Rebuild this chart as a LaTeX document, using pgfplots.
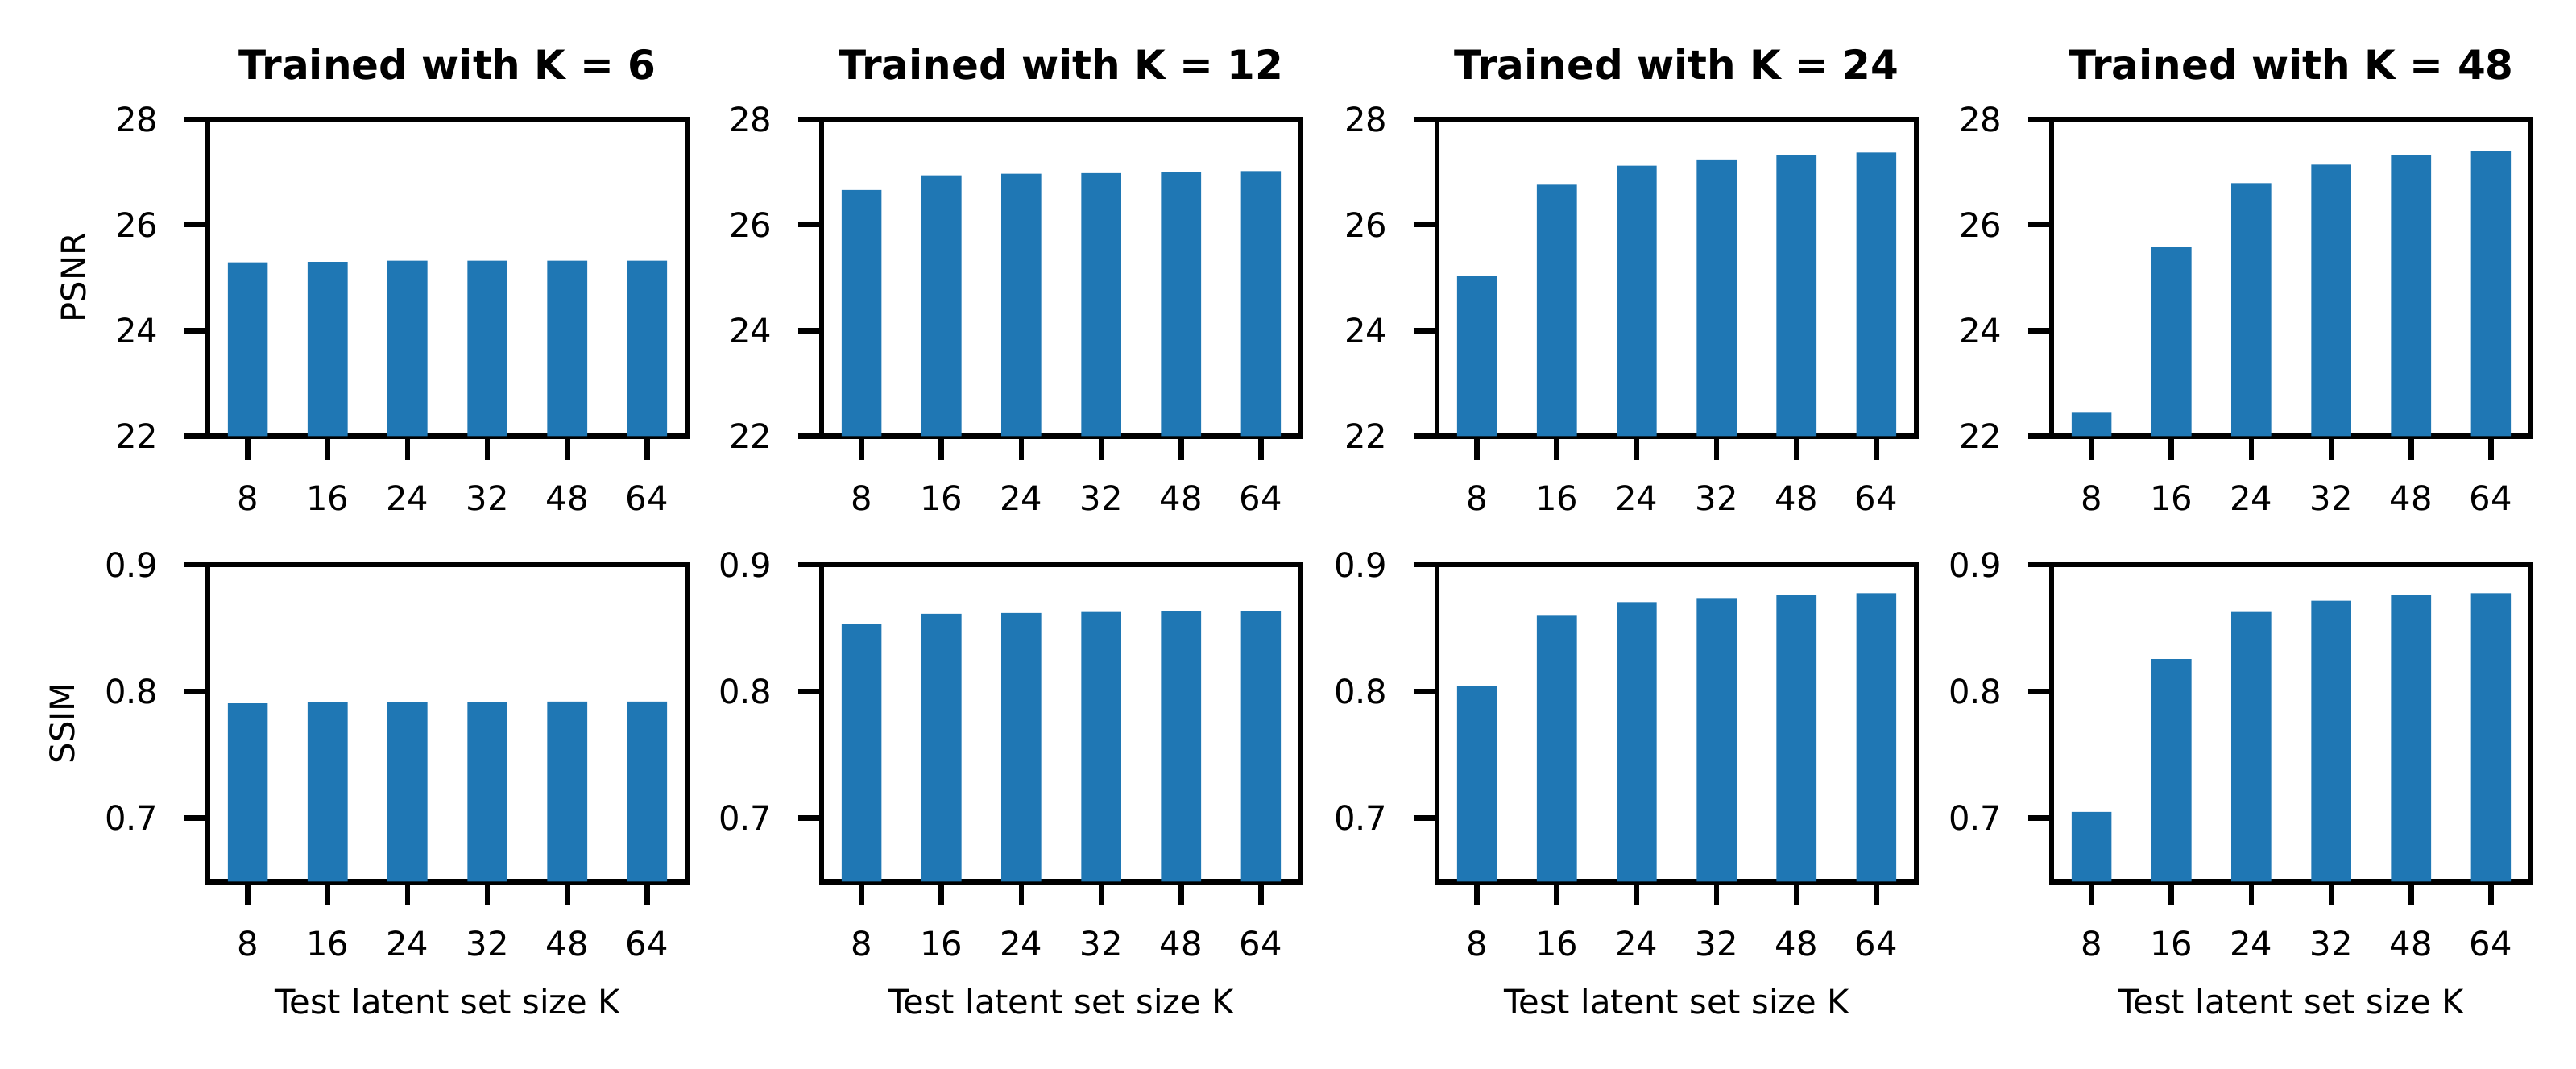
\documentclass[border=0pt]{standalone}
\usepackage{fontspec}
\setmainfont{DejaVu Sans}
\usepackage{pgfplots}
\pgfplotsset{compat=1.18}
\definecolor{mplblue}{HTML}{1F77B4}

\pgfplotsset{
  panel/.style={
    width=71.4pt, height=47.2pt, scale only axis,
    anchor=north west,
    line width=0.8pt,
    xmin=-0.5, xmax=5.5,
    xtick={0,...,5}, xticklabels={8,16,24,32,48,64},
    tick align=outside, tick pos=left,
    major tick length=3.5pt,
    major tick style={black, line width=0.8pt},
    axis line style={line width=0.8pt},
    tick label style={font=\fontsize{5}{6}\selectfont},
    /pgf/number format/assume math mode=true,
    xticklabel style={inner sep=0pt, yshift=-3.5pt},
    yticklabel style={inner sep=0pt, xshift=-3.5pt},
    label style={font=\fontsize{5}{6}\selectfont},
    ylabel style={inner sep=0pt},
    ylabel shift=4pt,
    xlabel style={at={(0.5,0)}, anchor=base, yshift=-19.7pt},
    title style={font=\bfseries\fontsize{6}{7}\selectfont, at={(0.5,1)}, anchor=base},
    ybar, bar width=0.5, bar shift=0pt,
  },
  psnr/.style={panel, ymin=22, ymax=28, ytick={22,24,26,28}},
  ssim/.style={panel, ymin=0.65, ymax=0.9, ytick={0.7,0.8,0.9},
    yticklabel style={/pgf/number format/.cd, fixed, precision=1, fixed zerofill},
    xlabel={Test latent set size K}},
}

\begin{document}
\begin{tikzpicture}
\useasboundingbox (0,0) rectangle (383.76pt,-159.12pt);

% top row: PSNR
\begin{axis}[psnr, at={(30.96pt,-17.76pt)}, title={Trained with K = 6}, ylabel={PSNR}]
\addplot[fill=mplblue, draw=none] coordinates {(0,25.29) (1,25.30) (2,25.32) (3,25.32) (4,25.32) (5,25.32)};
\end{axis}
\begin{axis}[psnr, at={(122.4pt,-17.76pt)}, title={Trained with K = 12}]
\addplot[fill=mplblue, draw=none] coordinates {(0,26.66) (1,26.94) (2,26.97) (3,26.98) (4,27.00) (5,27.02)};
\end{axis}
\begin{axis}[psnr, at={(214.08pt,-17.76pt)}, title={Trained with K = 24}]
\addplot[fill=mplblue, draw=none] coordinates {(0,25.04) (1,26.76) (2,27.12) (3,27.24) (4,27.32) (5,27.37)};
\end{axis}
\begin{axis}[psnr, at={(305.64pt,-17.76pt)}, title={Trained with K = 48}]
\addplot[fill=mplblue, draw=none] coordinates {(0,22.44) (1,25.58) (2,26.79) (3,27.14) (4,27.32) (5,27.40)};
\end{axis}

% bottom row: SSIM
\begin{axis}[ssim, at={(30.96pt,-84.12pt)}, ylabel={SSIM}]
\addplot[fill=mplblue, draw=none] coordinates {(0,0.7907) (1,0.7913) (2,0.7913) (3,0.7913) (4,0.7920) (5,0.7920)};
\end{axis}
\begin{axis}[ssim, at={(122.4pt,-84.12pt)}]
\addplot[fill=mplblue, draw=none] coordinates {(0,0.8530) (1,0.8614) (2,0.8620) (3,0.8627) (4,0.8633) (5,0.8633)};
\end{axis}
\begin{axis}[ssim, at={(214.08pt,-84.12pt)}]
\addplot[fill=mplblue, draw=none] coordinates {(0,0.8040) (1,0.8597) (2,0.8706) (3,0.8737) (4,0.8763) (5,0.8775)};
\end{axis}
\begin{axis}[ssim, at={(305.64pt,-84.12pt)}]
\addplot[fill=mplblue, draw=none] coordinates {(0,0.7050) (1,0.8256) (2,0.8627) (3,0.8716) (4,0.8763) (5,0.8775)};
\end{axis}
\end{tikzpicture}
\end{document}
